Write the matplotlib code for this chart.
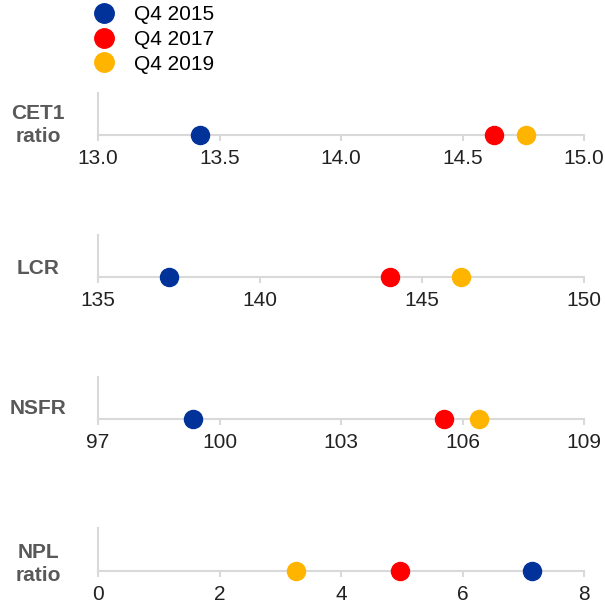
import matplotlib
matplotlib.use("Agg")
import matplotlib.pyplot as plt
from matplotlib.lines import Line2D

plt.rcParams['font.family'] = ['Liberation Sans', 'DejaVu Sans']

series = ["Q4 2015", "Q4 2017", "Q4 2019"]
colors = ["#003299", "#ff0000", "#ffb400"]

categories = ["CET1\nratio", "LCR", "NSFR", "NPL\nratio"]
cet1 = [13.42, 14.63, 14.76]
lcr = [137.2, 144.0, 146.2]
nsfr = [99.35, 105.55, 106.4]
npl = [7.15, 4.97, 3.26]
values = [cet1, lcr, nsfr, npl]

ticks_cet1 = [13.0, 13.5, 14.0, 14.5, 15.0]
ticks_lcr = [135, 140, 145, 150]
ticks_nsfr = [97, 100, 103, 106, 109]
ticks_npl = [0, 2, 4, 6, 8]
ticks = [ticks_cet1, ticks_lcr, ticks_nsfr, ticks_npl]
tick_fmt = ["{:.1f}", "{:.0f}", "{:.0f}", "{:.0f}"]

W, H = 605, 606
fig = plt.figure(figsize=(W / 100, H / 100), dpi=100)

axis_y = [135, 277, 419, 571]
top_y = [93, 235, 377, 528]
label_y = [125, 268, 408, 564]
x0, x1 = 98, 584
axis_color = "#d9d9d9"
gray = "#595959"
fs = 15

for i in range(4):
    ax = fig.add_axes([x0 / W, 1 - axis_y[i] / H, (x1 - x0) / W, (axis_y[i] - top_y[i]) / H])
    t = ticks[i]
    ax.set_xlim(t[0], t[-1])
    ax.set_ylim(0, 1)
    ax.set_xticks(t)
    ax.set_xticklabels([tick_fmt[i].format(v) for v in t])
    ax.set_yticks([])
    for s in ["top", "right"]:
        ax.spines[s].set_visible(False)
    for s in ["left", "bottom"]:
        ax.spines[s].set_color(axis_color)
        ax.spines[s].set_linewidth(1.5)
    ax.tick_params(axis="x", length=4, width=1.5, color=axis_color, pad=6,
                   labelsize=fs, labelcolor="#222222")
    ax.patch.set_alpha(0)
    for j in range(3):
        ax.plot(values[i][j], 0, "o", color=colors[j], markersize=13, clip_on=False, zorder=5)
    fig.text(38 / W, 1 - label_y[i] / H, categories[i], ha="center", va="center",
             fontsize=fs, fontweight="bold", color=gray, linespacing=1.3)

handles = [Line2D([], [], marker="o", linestyle="", color=c, markersize=14) for c in colors]
fig.legend(handles, series, loc="upper left", bbox_to_anchor=(91 / W, 1 - 5 / H),
           frameon=False, fontsize=fs, handletextpad=0.85, labelspacing=0.28,
           handlelength=1.2, borderaxespad=0, borderpad=0)

fig.savefig("out.png", dpi=100, facecolor="white")
